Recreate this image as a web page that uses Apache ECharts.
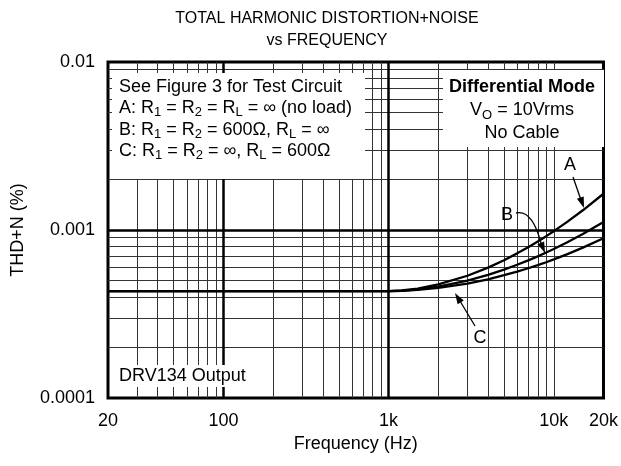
<!DOCTYPE html>
<html>
<head>
<meta charset="utf-8">
<script src="https://cdn.jsdelivr.net/npm/echarts@6/dist/echarts.min.js"></script>
<style>
  html, body { margin: 0; padding: 0; background: #fff; }
  #chart { width: 621px; height: 466px; }
</style>
</head>
<body>
<div id="chart"></div>
<script>
// frequency points (Hz)
const freq = [20, 100, 500, 1000, 1200, 1500, 2000, 3000, 4000, 5000, 6000, 7000, 8000, 9000, 10000, 12000, 15000, 20000]
// THD+N (%)
const thdA = [0.000433, 0.000433, 0.000433, 0.000433, 0.000437, 0.000448, 0.000474, 0.000534, 0.000597, 0.000661, 0.000726, 0.00079, 0.000854, 0.000919, 0.000984, 0.001114, 0.00131, 0.001644]
const thdB = [0.000433, 0.000433, 0.000433, 0.000433, 0.000435, 0.000443, 0.00046, 0.0005, 0.000541, 0.000581, 0.000621, 0.000659, 0.000697, 0.000735, 0.00077, 0.000842, 0.000947, 0.001116]
const thdC = [0.000433, 0.000433, 0.000433, 0.000433, 0.000434, 0.00044, 0.000452, 0.00048, 0.000509, 0.000538, 0.000565, 0.000592, 0.000618, 0.000643, 0.000668, 0.000716, 0.000785, 0.000894]

const xTicks = [20, 100, 1000, 10000, 20000]
const xTickLabels = ['20', '100', '1k', '10k', '20k']
const yTicks = [0.0001, 0.001, 0.01]
const yTickLabels = ['0.0001', '0.001', '0.01']

// grid lines
const xMajor = [100, 1000]
const xMinor = [30, 40, 50, 60, 70, 80, 90, 200, 300, 400, 500, 600, 700, 800, 900,
  2000, 3000, 4000, 5000, 6000, 7000, 8000, 9000, 10000]
const yMajor = [0.001]
const yMinor = [0.0002, 0.0003, 0.0004, 0.0005, 0.0006, 0.0007, 0.0008, 0.0009,
  0.002, 0.003, 0.004, 0.005, 0.006, 0.007, 0.008, 0.009]

const FONT = 'Liberation Sans'
const X_MIN = 20, X_MAX = 20000, Y_MIN = 0.0001, Y_MAX = 0.01

const pickLabel = (ticks, labels) => (value) => {
  const i = ticks.findIndex((t) => Math.abs(Math.log10(t) - Math.log10(value)) < 0.01)
  return i >= 0 ? labels[i] : ''
}

const minorStyle = { color: '#333', width: 1, type: 'solid' }
const majorStyle = { color: '#000', width: 2.5, type: 'solid' }

const vLine = (v, style) => [{ coord: [v, Y_MIN], lineStyle: style }, { coord: [v, Y_MAX] }]
const hLine = (v, style) => [{ coord: [X_MIN, v], lineStyle: style }, { coord: [X_MAX, v] }]

const gridLines = [
  ...xMinor.map((v) => vLine(v, minorStyle)),
  ...yMinor.map((v) => hLine(v, minorStyle)),
  ...xMajor.map((v) => vLine(v, majorStyle)),
  ...yMajor.map((v) => hLine(v, majorStyle)),
]

const pairs = (ys) => freq.map((f, i) => [f, ys[i]])

const curve = (name, ys, extra) => ({
  name,
  type: 'line',
  data: pairs(ys),
  symbol: 'none',
  z: 3,
  lineStyle: { color: '#000', width: 2.3 },
  emphasis: { disabled: true },
  ...extra,
})

// arrow helper for the A/B/C call-outs
const arrowHead = (x1, y1, x2, y2) => {
  const a = Math.atan2(y2 - y1, x2 - x1)
  const len = 11, hw = 3.6
  const bx = x2 - len * Math.cos(a), by = y2 - len * Math.sin(a)
  return {
    type: 'polygon',
    z: 12,
    shape: { points: [[x2, y2], [bx + hw * Math.sin(a), by - hw * Math.cos(a)], [bx - hw * Math.sin(a), by + hw * Math.cos(a)]] },
    style: { fill: '#000' },
  }
}

const sub = (s) => `{s|${s}}`
const legendText = [
  '{t|See Figure 3 for Test Circuit}',
  `{t|A: R}${sub('1')}{t| = R}${sub('2')}{t| = R}${sub('L')}{t| = ∞ (no load)}`,
  `{t|B: R}${sub('1')}{t| = R}${sub('2')}{t| = 600Ω, R}${sub('L')}{t| = ∞}`,
  `{t|C: R}${sub('1')}{t| = R}${sub('2')}{t| = ∞, R}${sub('L')}{t| = 600Ω}`,
].join('\n')

const richStyles = {
  t: { fontSize: 18, fontFamily: FONT, lineHeight: 21.5, color: '#000' },
  b: { fontSize: 18, fontFamily: FONT, fontWeight: 'bold', lineHeight: 23, color: '#000' },
  n: { fontSize: 18, fontFamily: FONT, lineHeight: 23, color: '#000' },
  s: { fontSize: 13, fontFamily: FONT, lineHeight: 12, verticalAlign: 'bottom', color: '#000' },
}

const chart = echarts.init(document.getElementById('chart'))

const option = {
  animation: false,
  backgroundColor: '#fff',
  title: {
    text: 'TOTAL HARMONIC DISTORTION+NOISE\nvs FREQUENCY',
    left: 322,
    top: 3,
    textAlign: 'center',
    textStyle: { fontFamily: FONT, fontSize: 16, fontWeight: 'normal', color: '#000', lineHeight: 22 },
  },
  grid: {
    left: 108,
    right: 16,
    top: 62,
    bottom: 68,
    show: true,
    borderColor: '#000',
    borderWidth: 3,
    backgroundColor: '#fff',
  },
  xAxis: {
    type: 'log',
    logBase: 10,
    min: X_MIN,
    max: X_MAX,
    splitNumber: 3,
    name: 'Frequency (Hz)',
    nameLocation: 'middle',
    nameGap: 37,
    nameTextStyle: { fontFamily: FONT, fontSize: 18, color: '#000' },
    axisLine: { show: false },
    axisTick: { show: false },
    splitLine: { show: false },
    axisLabel: {
      interval: 0,
      showMinLabel: true,
      showMaxLabel: true,
      margin: 14,
      fontFamily: FONT,
      fontSize: 18,
      color: '#000',
      formatter: pickLabel(xTicks, xTickLabels),
    },
  },
  yAxis: {
    type: 'log',
    logBase: 10,
    min: Y_MIN,
    max: Y_MAX,
    name: 'THD+N (%)',
    nameLocation: 'middle',
    nameGap: 81,
    nameTextStyle: { fontFamily: FONT, fontSize: 18, color: '#000' },
    axisLine: { show: false },
    axisTick: { show: false },
    splitLine: { show: false },
    axisLabel: {
      showMinLabel: true,
      showMaxLabel: true,
      margin: 13,
      fontFamily: FONT,
      fontSize: 18,
      color: '#000',
      formatter: pickLabel(yTicks, yTickLabels),
    },
  },
  series: [
    curve('A', thdA, {
      markLine: {
        silent: true,
        z: 1,
        symbol: ['none', 'none'],
        label: { show: false },
        emphasis: { disabled: true },
        data: gridLines,
      },
    }),
    curve('B', thdB),
    curve('C', thdC),
  ],
  graphic: [
    // test circuit box
    { type: 'rect', z: 10, shape: { x: 112, y: 73, width: 253, height: 106 }, style: { fill: '#fff' } },
    { type: 'text', z: 11, x: 119, y: 76, style: { text: legendText, rich: richStyles } },
    // mode box
    { type: 'rect', z: 10, shape: { x: 443, y: 70, width: 161, height: 77 }, style: { fill: '#fff' } },
    {
      type: 'text', z: 11, x: 522, y: 76,
      style: {
        text: '{b|Differential Mode}\n{n|V}{s|O}{n| = 10Vrms}\n{n|No Cable}',
        rich: richStyles,
        align: 'center',
      },
    },
    // output label
    {
      type: 'text', z: 11, x: 116, y: 376,
      style: {
        text: 'DRV134 Output', font: `18px ${FONT}`, fill: '#000',
        verticalAlign: 'middle', backgroundColor: '#fff', padding: [2, 3, 2, 3],
      },
    },
    // curve call-outs
    { type: 'text', z: 12, x: 570, y: 165, style: { text: 'A', font: `18px ${FONT}`, fill: '#000', align: 'center', verticalAlign: 'middle' } },
    { type: 'line', z: 12, shape: { x1: 573, y1: 177, x2: 581, y2: 200 }, style: { stroke: '#000', lineWidth: 1.3 } },
    arrowHead(573, 177, 584, 208),
    { type: 'text', z: 12, x: 507, y: 215, style: { text: 'B', font: `18px ${FONT}`, fill: '#000', align: 'center', verticalAlign: 'middle' } },
    { type: 'bezierCurve', z: 12, shape: { x1: 516, y1: 213, cpx1: 532, cpy1: 209, x2: 541, y2: 243 }, style: { stroke: '#000', lineWidth: 1.3, fill: 'none' } },
    arrowHead(538, 236, 545, 253),
    { type: 'text', z: 12, x: 480, y: 338, style: { text: 'C', font: `18px ${FONT}`, fill: '#000', align: 'center', verticalAlign: 'middle' } },
    { type: 'line', z: 12, shape: { x1: 475, y1: 326, x2: 460, y2: 301 }, style: { stroke: '#000', lineWidth: 1.3 } },
    arrowHead(475, 326, 455, 293),
  ],
}

option && chart.setOption(option)
</script>
</body>
</html>
